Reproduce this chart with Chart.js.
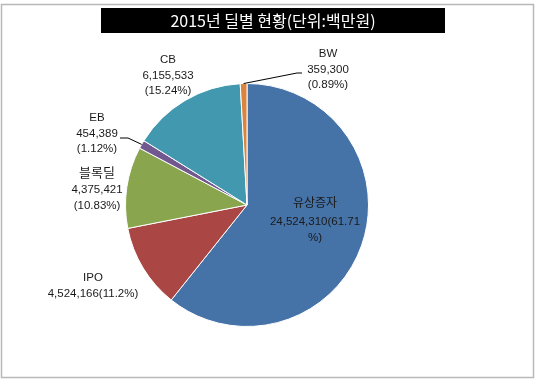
<!DOCTYPE html>
<html>
<head>
<meta charset="utf-8">
<script src="https://cdn.jsdelivr.net/npm/chart.js@4/dist/chart.umd.min.js"></script>
<style>
  html, body { margin: 0; padding: 0; background: #ffffff; }
  #wrap { width: 535px; height: 379px; position: relative; }
</style>
</head>
<body>
<div id="wrap"><canvas id="c" width="535" height="379"></canvas></div>
<script>
// ---- data ----
const chartTitle = '2015년 딜별 현황(단위:백만원)';
const categories = ['유상증자', 'IPO', '블록딜', 'EB', 'CB', 'BW'];
const values = [24524310, 4524166, 4375421, 454389, 6155533, 359300];
const percentLabels = ['61.71', '11.2', '10.83', '1.12', '15.24', '0.89'];
const sliceColors = ['#4572A7', '#AA4643', '#89A54E', '#71588F', '#4198AF', '#DB843D'];

// label line-building style per slice: 'wrapPct' | 'inline' | 'stack'
const labelModes = ['wrapPct', 'inline', 'stack', 'stack', 'stack', 'stack'];

function fmt(n) { return n.toString().replace(/\B(?=(\d{3})+(?!\d))/g, ','); }
function buildLines(i) {
  const v = fmt(values[i]), p = percentLabels[i];
  if (labelModes[i] === 'wrapPct') return [categories[i], v + '(' + p, '%)'];
  if (labelModes[i] === 'inline') return [categories[i], v + '(' + p + '%)'];
  return [categories[i], v, '(' + p + '%)'];
}

// label placement relative to pie center (px) and leader lines
const labelOffsets = [[68, -3], [-154, 73], [-150, -33], [-150, -87], [-79, -145], [81, -151]];
const leaders = {
  3: { elbow: [-119, -67], end: [-127, -67] },
  5: { elbow: [50, -132], end: [55, -132] }
};

const decorPlugin = {
  id: 'decor',
  beforeDraw(chart) {
    const ctx = chart.ctx;
    ctx.save();
    ctx.fillStyle = '#ffffff';
    ctx.fillRect(0, 0, chart.width, chart.height);
    ctx.strokeStyle = '#b8b8b8';
    ctx.lineWidth = 1.5;
    ctx.strokeRect(1.5, 4.5, 532, 373);
    // title box
    ctx.fillStyle = '#000000';
    ctx.fillRect(101, 8, 344, 25);
    ctx.fillStyle = '#ffffff';
    ctx.font = "16px 'Noto Sans CJK KR', sans-serif";
    ctx.textAlign = 'center';
    ctx.textBaseline = 'middle';
    ctx.fillText(chartTitle, 273, 21);
    ctx.restore();
  },
  afterDatasetsDraw(chart) {
    const ctx = chart.ctx;
    const meta = chart.getDatasetMeta(0);
    ctx.save();
    meta.data.forEach((arc, i) => {
      const p = arc.getProps(['x', 'y', 'startAngle', 'endAngle', 'outerRadius'], true);
      const cx = p.x, cy = p.y;
      const mid = (p.startAngle + p.endAngle) / 2;
      // leader line
      if (leaders[i]) {
        const ex = cx + Math.cos(mid) * p.outerRadius;
        const ey = cy + Math.sin(mid) * p.outerRadius;
        ctx.strokeStyle = '#000000';
        ctx.lineWidth = 1;
        ctx.beginPath();
        ctx.moveTo(ex, ey);
        ctx.lineTo(cx + leaders[i].elbow[0], cy + leaders[i].elbow[1]);
        ctx.lineTo(cx + leaders[i].end[0], cy + leaders[i].end[1]);
        ctx.stroke();
      }
      const lines = buildLines(i);
      let lx = cx + labelOffsets[i][0];
      let ly = cy + labelOffsets[i][1];
      ctx.fillStyle = '#1a1a1a';
      ctx.textAlign = 'center';
      ctx.textBaseline = 'middle';
      lines.forEach((t, k) => {
        const korean = /[\uAC00-\uD7A3]/.test(t);
        if (korean) {
          ctx.font = (i === 2 ? "13px" : "12px") + " 'Noto Sans CJK KR', sans-serif";
        } else {
          ctx.font = "11.5px 'Liberation Sans', 'Noto Sans CJK KR', sans-serif";
        }
        ctx.fillText(t, lx, ly);
        ly += (korean ? (i === 2 ? 18 : 20) : 15.5);
      });
    });
    ctx.restore();
  }
};

new Chart(document.getElementById('c'), {
  type: 'pie',
  data: {
    labels: categories,
    datasets: [{
      data: values,
      backgroundColor: sliceColors,
      borderColor: '#ffffff',
      borderWidth: 1
    }]
  },
  options: {
    responsive: false,
    animation: false,
    layout: { padding: { left: 125, right: 166, top: 83, bottom: 52 } },
    plugins: {
      legend: { display: false },
      tooltip: { enabled: false },
      title: { display: false }
    }
  },
  plugins: [decorPlugin]
});
</script>
</body>
</html>
